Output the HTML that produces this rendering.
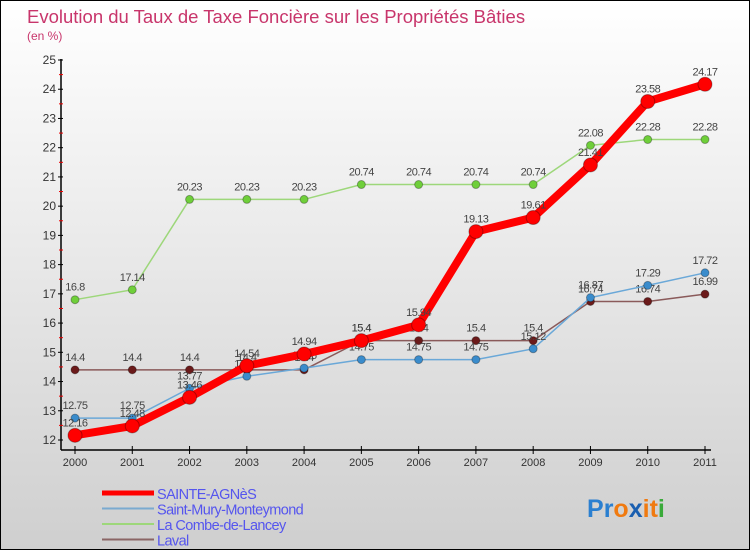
<!DOCTYPE html>
<html><head><meta charset="utf-8"><style>
body{margin:0}
#c{width:750px;height:550px;position:relative;box-sizing:border-box;border:1px solid #000;background:linear-gradient(#fff,#cfcfcf);font-family:"Liberation Sans",sans-serif;overflow:hidden}
</style></head><body>
<div id="c">
<svg id="s" width="748" height="548"></svg>
</div>
<script>
const years=[2000,2001,2002,2003,2004,2005,2006,2007,2008,2009,2010,2011];
const yTicks=[12,13,14,15,16,17,18,19,20,21,22,23,24,25];
const sainteAgnes=[12.16,12.48,13.46,14.54,14.94,15.4,15.94,19.13,19.61,21.41,23.58,24.17];
const saintMury=[12.75,12.75,13.77,14.18,14.46,14.75,14.75,14.75,15.12,16.87,17.29,17.72];
const combe=[16.8,17.14,20.23,20.23,20.23,20.74,20.74,20.74,20.74,22.08,22.28,22.28];
const laval=[14.4,14.4,14.4,14.4,14.4,15.4,15.4,15.4,15.4,16.74,16.74,16.99];
const s=document.getElementById('s'),NS='http://www.w3.org/2000/svg';
const X=i=>74+i*(630/11), Y=v=>439-(v-12)*(380/13);
function el(t,a,txt){const e=document.createElementNS(NS,t);for(const k in a)e.setAttribute(k,a[k]);if(txt!==undefined)e.textContent=txt;s.appendChild(e);return e;}
let e;
e=el('text',{x:26,y:22,fill:'#c8356b','font-size':18.5},'Evolution du Taux de Taxe Foncière sur les Propriétés Bâties');

e=el('text',{x:26,y:39,fill:'#c8356b','font-size':12},'(en %)');

el('line',{x1:60,y1:58,x2:60,y2:449,stroke:'#000','stroke-width':1.5});
el('line',{x1:60,y1:449,x2:710,y2:449,stroke:'#000','stroke-width':1.5});
yTicks.forEach((v,i)=>{el('line',{x1:57,x2:62,y1:Y(v),y2:Y(v),stroke:'#000'});
 if(i<yTicks.length-1)el('line',{x1:58,x2:62,y1:Y(v+0.5),y2:Y(v+0.5),stroke:'#e00'});
 e=el('text',{x:55,y:Y(v)+4,'text-anchor':'end','font-size':12,fill:'#333'},v);
 });
years.forEach((y,i)=>{el('line',{x1:X(i),x2:X(i),y1:445,y2:453,stroke:'#000'});
 e=el('text',{x:X(i),y:465,'text-anchor':'middle','font-size':11,fill:'#333'},y);
 });
const series=[[combe,'#9dd77a','#6fcf3a',1.5,4,'combe'],[laval,'#8a5a5a','#6b1a1a',1.5,4,'laval'],[saintMury,'#6aa8d8','#3a8ccc',1.5,4,'saint-mury'],[sainteAgnes,'#f00','#f00',8,7,'sainte-agnes']];
series.forEach(([d,lc,pc,w,r,n])=>{
 e=el('polyline',{points:d.map((v,i)=>X(i)+','+Y(v)).join(' '),fill:'none',stroke:lc,'stroke-width':w,'stroke-linejoin':'round'});
 
 d.forEach((v,i)=>{e=el('circle',{cx:X(i),cy:Y(v),r:r,fill:pc,stroke:'rgba(0,0,0,0.3)','stroke-width':1});
  
  e=el('text',{x:X(i),y:Y(v)-9,'text-anchor':'middle','font-size':11,fill:'#444','letter-spacing':'-0.5'},v);
  });
});
const leg=[['SAINTE-AGNèS','#f00',5],['Saint-Mury-Monteymond','#7aaad0',2],['La Combe-de-Lancey','#9dd77a',2],['Laval','#8a6565',2]];
leg.forEach(([t,c,w],i)=>{const y=492+i*15.5;
 e=el('line',{x1:101,x2:153,y1:y,y2:y,stroke:c,'stroke-width':w});
 
 e=el('text',{x:156,y:y+6,'font-size':14.5,fill:'#5555ee','letter-spacing':'-0.6'},t);
 });
const logo=[['P','#2a7fd0'],['r','#2a7fd0'],['o','#f07a10'],['x','#1a5fb0'],['i','#f07a10'],['t','#f07a10'],['i','#3aaa3a']];
e=el('text',{x:586,y:516,'font-size':25,'font-weight':'bold'});

logo.forEach(([ch,c])=>{const t=document.createElementNS(NS,'tspan');t.setAttribute('fill',c);t.textContent=ch;e.appendChild(t);});
</script>
</body></html>
